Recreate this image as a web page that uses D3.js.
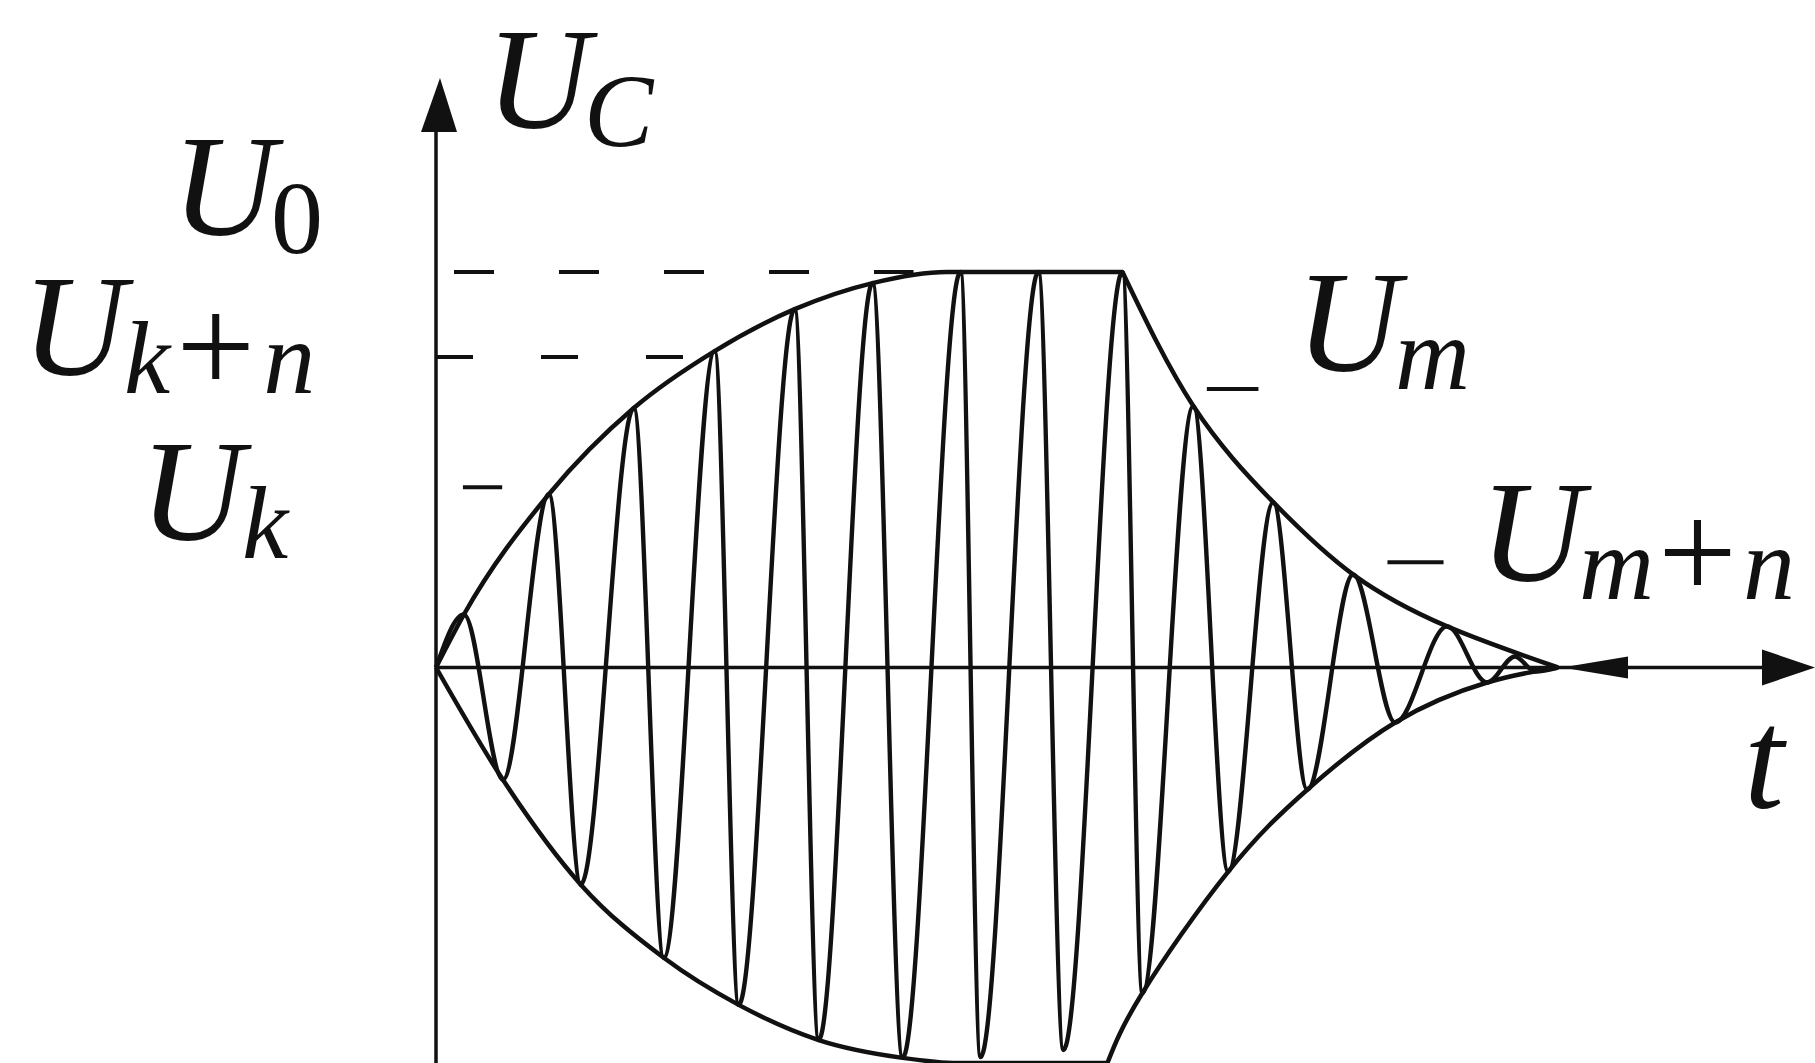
<!DOCTYPE html>
<html>
<head>
<meta charset="utf-8">
<script src="https://cdn.jsdelivr.net/npm/d3@7/dist/d3.min.js"></script>
<style>
  html, body { margin: 0; padding: 0; background: #fff; }
  svg { display: block; }
  .lbl { font-family: "Liberation Serif", "Times New Roman", serif; font-style: italic; fill: #111; }
  .up { font-style: normal; }
</style>
</head>
<body>
<svg id="chart"></svg>
<script>

// Oscillation extrema: t in % of drawn time span, u = U / U0
var oscT = [0, 2.49, 5.97, 10.06, 12.91, 17.63, 20.30, 24.84, 26.98, 31.97, 34.11, 38.91, 41.59,
            46.75, 48.53, 53.69, 55.92, 61.18, 62.96, 67.50, 70.61, 74.62, 77.65, 81.75, 85.49,
            90.12, 93.68, 96.17, 97.95, 100];
var oscU = [0, 0.134, -0.284, 0.438, -0.549, 0.656, -0.734, 0.800, -0.853, 0.906, -0.942, 0.972, -0.987,
            1.0, -0.985, 1.0, -0.967, 1.0, -0.823, 0.661, -0.516, 0.418, -0.309, 0.235, -0.139,
            0.104, -0.038, 0.028, -0.010, 0];

// Upper envelope (charging up to the plateau, then discharging)
var upRiseT = [0, 2.49, 10.06, 17.63, 24.84, 31.97, 38.91, 45.5, 61.18];
var upRiseU = [0, 0.134, 0.438, 0.656, 0.800, 0.906, 0.972, 1.0, 1.0];
var upFallT = [61.18, 67.50, 74.62, 81.75, 90.12, 100];
var upFallU = [1.0, 0.661, 0.418, 0.235, 0.104, 0];

// Lower envelope
var loRiseT = [0, 5.97, 12.91, 20.30, 26.98, 34.11, 41.59, 46.5, 59.84];
var loRiseU = [0, -0.284, -0.549, -0.734, -0.853, -0.942, -0.987, -1.0, -1.0];
var loFallT = [59.84, 62.96, 70.61, 77.65, 85.49, 93.68, 100];
var loFallU = [-1.0, -0.823, -0.516, -0.309, -0.139, -0.038, 0];

// Marked levels (U / U0)
var levelNames = ["U0", "Uk+n", "Uk", "Um", "Um+n"];
var levelU     = [1.0, 0.785, 0.456, 0.704, 0.266];

var width = 1815, height = 1063;

var svg = d3.select("#chart")
    .attr("width", width)
    .attr("height", height);

// Scales
var x = d3.scaleLinear().domain([0, 100]).range([436, 1558]);
var y = d3.scaleLinear().domain([-1, 1]).range([1063, 272]);

var ink = "#111";

// Line generators
var monotone = d3.line()
    .x(function(d) { return x(d[0]); })
    .y(function(d) { return y(d[1]); })
    .curve(d3.curveMonotoneX);
var natural = d3.line()
    .x(function(d) { return x(d[0]); })
    .y(function(d) { return y(d[1]); })
    .curve(d3.curveNatural);

// Axes
svg.append("line")
    .attr("x1", x(0)).attr("x2", x(0))
    .attr("y1", height).attr("y2", 120)
    .attr("stroke", ink).attr("stroke-width", 3.5);
svg.append("line")
    .attr("x1", x(0)).attr("x2", width - 30)
    .attr("y1", y(0)).attr("y2", y(0))
    .attr("stroke", ink).attr("stroke-width", 3.5);

// Arrow heads
svg.append("path")
    .attr("d", "M" + (x(0) + 4) + ",78 L" + (x(0) - 15) + ",132 L" + (x(0) + 21) + ",132 Z")
    .attr("fill", ink);
svg.append("path")
    .attr("d", "M" + width + "," + y(0) + " L" + (width - 53) + "," + (y(0) - 18) +
               " L" + (width - 53) + "," + (y(0) + 18) + " Z")
    .attr("fill", ink);
svg.append("path")
    .attr("d", "M" + (x(100) + 4) + "," + y(0) + " L" + (x(100) + 70) + "," + (y(0) - 11) +
               " L" + (x(100) + 70) + "," + (y(0) + 11) + " Z")
    .attr("fill", ink);

// Dashed level lines
svg.append("line")
    .attr("x1", x(0)).attr("x2", x(42.56))
    .attr("y1", y(levelU[0])).attr("y2", y(levelU[0]))
    .attr("stroke", ink).attr("stroke-width", 4)
    .attr("stroke-dasharray", "40 65").attr("stroke-dashoffset", 87);
svg.append("line")
    .attr("x1", x(0)).attr("x2", x(22.5))
    .attr("y1", y(levelU[1])).attr("y2", y(levelU[1]))
    .attr("stroke", ink).attr("stroke-width", 4)
    .attr("stroke-dasharray", "37 68");

// Short tick dashes
var ticks = [
    {i: 2, t0: 2.4, t1: 5.9},
    {i: 3, t0: 68.7, t1: 73.3},
    {i: 4, t0: 84.8, t1: 89.8}
];
svg.selectAll(".tick-dash")
    .data(ticks)
    .enter()
    .append("line")
    .attr("class", "tick-dash")
    .attr("x1", function(d) { return x(d.t0); })
    .attr("x2", function(d) { return x(d.t1); })
    .attr("y1", function(d) { return y(levelU[d.i]); })
    .attr("y2", function(d) { return y(levelU[d.i]); })
    .attr("stroke", ink).attr("stroke-width", 4);

// Envelopes
[[upRiseT, upRiseU, monotone], [upFallT, upFallU, natural],
 [loRiseT, loRiseU, monotone], [loFallT, loFallU, natural]].forEach(function(s) {
    svg.append("path")
        .attr("d", s[2](d3.zip(s[0], s[1])))
        .attr("fill", "none").attr("stroke", ink).attr("stroke-width", 4.5);
});

// Oscillation
svg.append("path")
    .attr("d", monotone(d3.zip(oscT, oscU)))
    .attr("fill", "none").attr("stroke", ink)
    .attr("stroke-width", 4.4).attr("stroke-linejoin", "round");

// Labels
function label(px, py, sub) {
    var t = svg.append("text")
        .attr("class", "lbl")
        .attr("x", px).attr("y", py)
        .attr("font-size", 144);
    t.append("tspan").text("U");
    var first = true;
    sub.forEach(function(p) {
        var s = t.append("tspan")
            .attr("font-size", p.size || 104)
            .attr("dx", p.dx)
            .text(p.txt);
        if (p.up) s.attr("class", "up");
        if (first) { s.attr("dy", 18); first = false; }
        if (p.dy) s.attr("dy", p.dy);
    });
    return t;
}

label(486, 128, [{txt: "C", dx: -6}]);
label(172, 235, [{txt: "0", dx: -5, up: true}]);
label(22, 375, [{txt: "k", dx: -2}, {txt: "+", dx: 6, up: true, size: 140}, {txt: "n", dx: 8}]);
label(140, 540, [{txt: "k", dx: -2}]);
label(1296, 371, [{txt: "m", dx: -5}]);
label(1480, 581, [{txt: "m", dx: -5}, {txt: "+", dx: 4, up: true, size: 140}, {txt: "n", dx: 6}]);

svg.append("text")
    .attr("class", "lbl")
    .attr("x", 1744).attr("y", 808)
    .attr("font-size", 144)
    .text("t");

</script>
</body>
</html>
